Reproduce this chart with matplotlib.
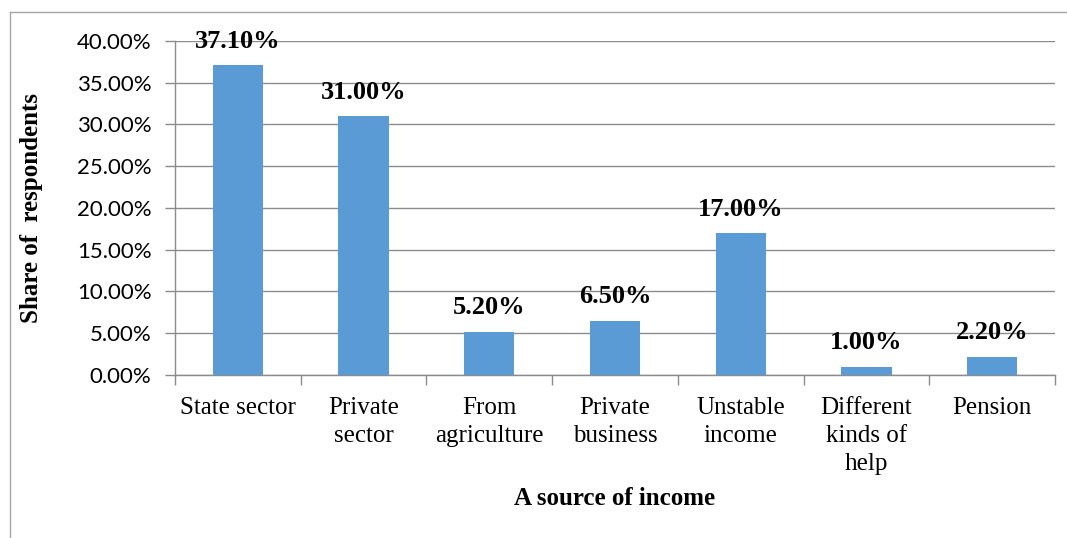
import matplotlib.pyplot as plt
from matplotlib.lines import Line2D
from matplotlib.ticker import FuncFormatter, MultipleLocator

# Sources of income and share of respondents (%)
sources = ["State sector", "Private\nsector", "From\nagriculture", "Private\nbusiness",
           "Unstable\nincome", "Different\nkinds of\nhelp", "Pension"]
shares = [37.10, 31.00, 5.20, 6.50, 17.00, 1.00, 2.20]

BAR_COLOR = "#5B9BD5"
GRID_COLOR = "#8c8c8c"
SERIF = ["Liberation Serif", "DejaVu Serif"]
SANS = ["Lato", "DejaVu Sans"]

fig = plt.figure(figsize=(10.67, 5.38), dpi=100)
ax = fig.add_axes([0.164, 0.303, 0.8248, 0.6208])

x = list(range(len(sources)))
ax.bar(x, shares, width=0.4, color=BAR_COLOR, zorder=3)

ax.set_xlim(-0.5, len(sources) - 0.5)
ax.set_ylim(0, 40)
ax.yaxis.set_major_locator(MultipleLocator(5))
ax.yaxis.set_major_formatter(FuncFormatter(lambda v, _: f"{v:.2f}%"))
ax.grid(axis="y", color=GRID_COLOR, linewidth=1.0, zorder=0)

# category labels sit between boundary ticks
ax.set_xticks(x)
ax.set_xticklabels(sources, family=SERIF, fontsize=18, linespacing=1.38)
ax.tick_params(axis="x", length=0, pad=15.5)
ax.set_xticks([i - 0.5 for i in range(len(sources) + 1)], minor=True)
ax.tick_params(axis="x", which="minor", length=7, color=GRID_COLOR, width=1.0)
ax.tick_params(axis="y", length=7, color=GRID_COLOR, width=1.0, pad=10)
for lbl in ax.get_yticklabels():
    lbl.set_family(SANS)
    lbl.set_fontsize(16)

for side in ("top", "right"):
    ax.spines[side].set_visible(False)
for side in ("left", "bottom"):
    ax.spines[side].set_color(GRID_COLOR)
    ax.spines[side].set_linewidth(1.0)

for xi, v in zip(x, shares):
    ax.annotate(f"{v:.2f}%", xy=(xi, v), xytext=(0, 9), textcoords="offset points",
                ha="center", va="bottom", family=SERIF, fontweight="bold", fontsize=19)

ax.set_ylabel("Share of  respondents", family=SERIF, fontweight="bold", fontsize=18)
ax.yaxis.set_label_coords(-0.150, 0.5)
fig.text(0.576, 0.074, "A source of income", ha="center", va="center",
         family=SERIF, fontweight="bold", fontsize=18)

# outer chart frame (left and top edges)
fig.add_artist(Line2D([10 / 1067, 10 / 1067], [0, 1 - 12 / 538],
                      color="#a6a6a6", linewidth=1.0))
fig.add_artist(Line2D([10 / 1067, 1], [1 - 12 / 538, 1 - 12 / 538],
                      color="#a6a6a6", linewidth=1.0))

fig.savefig("out.png", dpi=100)
